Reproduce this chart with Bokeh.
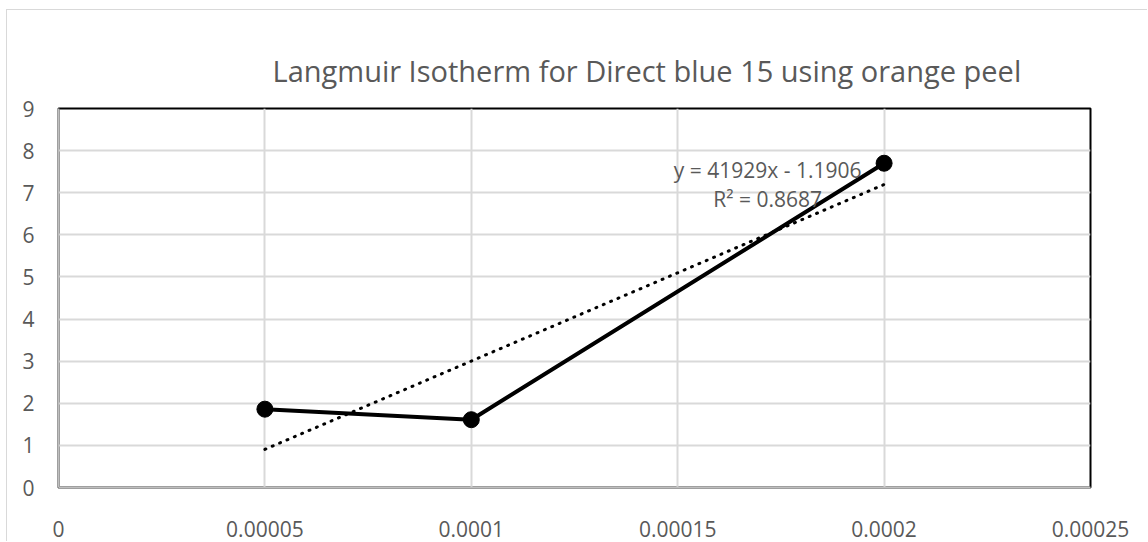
from bokeh.plotting import figure
from bokeh.models import FixedTicker, Label, Range1d
from bokeh.embed import file_html
from bokeh.resources import INLINE

# ---- data ----
x_vals = [0.00005, 0.0001, 0.0002]
y_vals = [1.86, 1.61, 7.70]
trend_slope = 41929
trend_intercept = -1.1906
trend_r2 = 0.8687
x_ticks = [0, 0.00005, 0.0001, 0.00015, 0.0002, 0.00025]
x_tick_labels = ["0", "0.00005", "0.0001", "0.00015", "0.0002", "0.00025"]
y_ticks = [0, 1, 2, 3, 4, 5, 6, 7, 8, 9]
title_text = "Langmuir Isotherm for Direct blue 15 using orange peel"

FONT = "Open Sans"
GRAY_TXT = "#595959"

p = figure(width=1141, height=532, output_backend="svg", toolbar_location=None,
           x_range=Range1d(0, 0.00025), y_range=Range1d(0, 9),
           min_border_left=51, min_border_right=58, min_border_top=98, min_border_bottom=55,
           title=title_text)
p.styles = {"margin-left": "6px", "margin-top": "9px",
            "border-top": "1px solid #d9d9d9", "border-left": "1px solid #d9d9d9"}

# title is centred over the full chart area, which extends past the crop
p.title.align = "left"
p.title.offset = 214
p.title.text_font = FONT
p.title.text_font_size = "29px"
p.title.text_font_style = "normal"
p.title.text_color = GRAY_TXT
p.title.standoff = 38

p.outline_line_color = "black"
p.outline_line_width = 2
p.background_fill_color = "white"
p.border_fill_color = "white"

for ax in (p.xaxis[0], p.yaxis[0]):
    ax.axis_line_color = "#bfbfbf"
    ax.axis_line_width = 2
    ax.major_tick_line_color = None
    ax.minor_tick_line_color = None
    ax.major_label_text_font = FONT
    ax.major_label_text_font_size = "21px"
    ax.major_label_text_color = GRAY_TXT

p.xaxis[0].ticker = FixedTicker(ticks=x_ticks)
p.xaxis[0].major_label_overrides = {t: l for t, l in zip(x_ticks, x_tick_labels)}
p.xaxis[0].major_label_standoff = 27
p.yaxis[0].ticker = FixedTicker(ticks=y_ticks)
p.yaxis[0].major_label_standoff = 18

p.xgrid.grid_line_color = "#d9d9d9"
p.ygrid.grid_line_color = "#d9d9d9"
p.xgrid.grid_line_width = 2
p.ygrid.grid_line_width = 2
p.xgrid.ticker = FixedTicker(ticks=x_ticks)
p.ygrid.ticker = FixedTicker(ticks=y_ticks)

# data series
p.line(x_vals, y_vals, line_color="black", line_width=4)
p.scatter(x_vals, y_vals, size=16, fill_color="black", line_color="black")

# linear trendline
tx = [min(x_vals), max(x_vals)]
ty = [trend_slope * v + trend_intercept for v in tx]
p.line(tx, ty, line_color="black", line_width=3, line_dash="1 7", line_cap="round")

# trendline equation label
eq_x = 0.0001718
p.add_layout(Label(x=eq_x, y=7.53, text=f"y = {trend_slope}x - {abs(trend_intercept)}",
                   text_align="center", text_baseline="middle", text_font=FONT,
                   text_font_size="21px", text_color=GRAY_TXT))
p.add_layout(Label(x=eq_x, y=6.86, text=f"R² = {trend_r2}",
                   text_align="center", text_baseline="middle", text_font=FONT,
                   text_font_size="21px", text_color=GRAY_TXT))

open("out.html", "w").write(file_html(p, INLINE))
